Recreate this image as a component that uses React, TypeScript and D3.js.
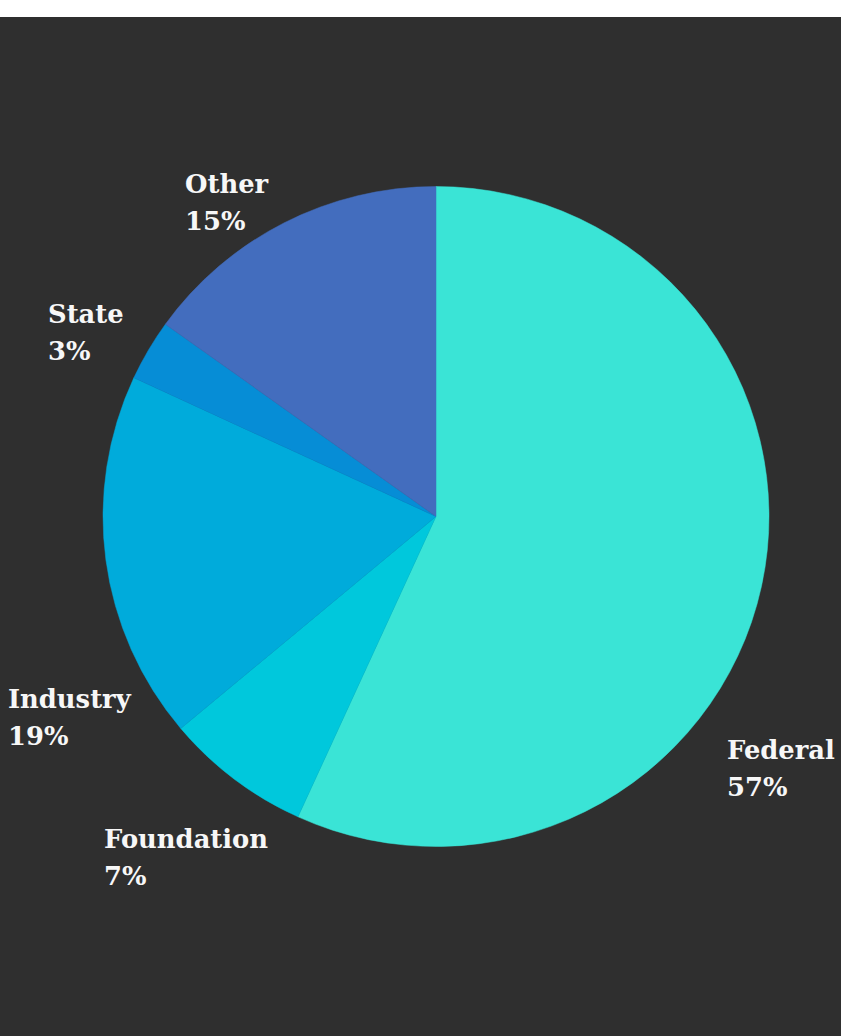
import React, { useEffect, useRef } from "react";
import * as d3 from "d3";

// Data (clockwise from 12 o'clock)
const categories = ["Federal", "Foundation", "Industry", "State", "Other"];
const values = [56.8, 7.1, 18.0, 3.0, 15.1];
const valueLabels = ["57%", "7%", "19%", "3%", "15%"];
const colors = ["#3ae4d6", "#00c8dc", "#00abdb", "#068dd6", "#436dbe"];

// Label layout (left x, first-line baseline y)
const labelX = [727, 104, 8, 48, 185];
const labelY = [759, 848, 708, 323, 193];

const W = 841;
const H = 1036;
const CX = 436;
const CY = 516.5;
const RX = 333;
const RY = 330;

export default function App() {
  const ref = useRef<SVGSVGElement | null>(null);

  useEffect(() => {
    document.body.style.margin = "0";
    const svg = d3.select(ref.current);
    svg.selectAll("*").remove();

    svg.append("rect").attr("x", 0).attr("y", 0).attr("width", W).attr("height", H).attr("fill", "#ffffff");
    svg.append("rect").attr("x", 0).attr("y", 17).attr("width", W).attr("height", H - 17).attr("fill", "#2f2f2f");

    const pie = d3.pie<number>().sort(null).value((d) => d);
    const arcs = pie(values);
    const arc = d3.arc<d3.PieArcDatum<number>>().innerRadius(0).outerRadius(RX);

    const g = svg
      .append("g")
      .attr("transform", `translate(${CX},${CY}) scale(1,${RY / RX})`);

    g.selectAll("path")
      .data(arcs)
      .enter()
      .append("path")
      .attr("d", (d) => arc(d) as string)
      .attr("fill", (_, i) => colors[i])
      .attr("stroke", (_, i) => colors[i])
      .attr("stroke-width", 0.5);

    const lg = svg.append("g");
    categories.forEach((c, i) => {
      const t = lg
        .append("text")
        .attr("x", labelX[i])
        .attr("y", labelY[i])
        .attr("fill", "#f7f7f7")
        .attr("font-family", "'DejaVu Serif', serif")
        .attr("font-weight", 700)
        .attr("font-size", 25.8);
      t.append("tspan").attr("x", labelX[i]).text(c);
      t.append("tspan").attr("x", labelX[i]).attr("dy", 37).text(valueLabels[i]);
    });
  }, []);

  return (
    <div style={{ position: "absolute", left: 0, top: 0, width: W, height: H }}>
      <svg ref={ref} width={W} height={H} style={{ display: "block" }} />
    </div>
  );
}
